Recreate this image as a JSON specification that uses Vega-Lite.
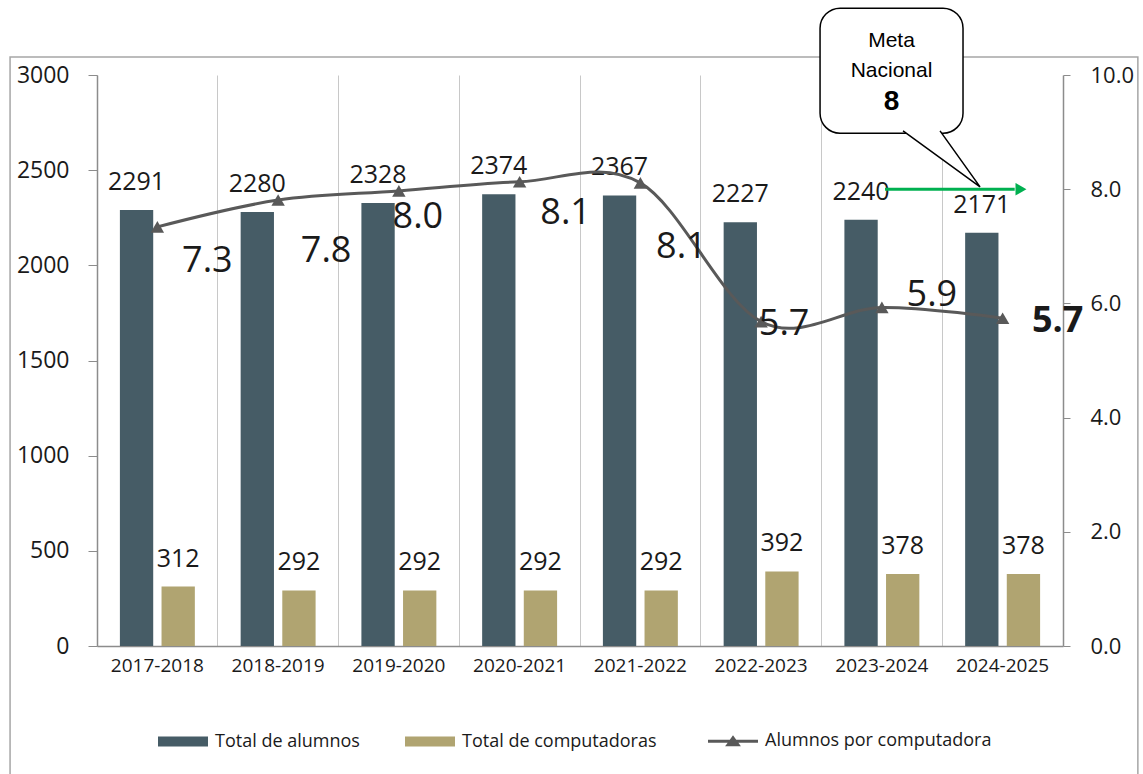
{
  "$schema": "https://vega.github.io/schema/vega-lite/v6.json",
  "width": 966,
  "height": 571,
  "autosize": {"type": "none"},
  "padding": {"left": 97, "top": 75, "right": 80, "bottom": 128},
  "background": "#ffffff",
  "config": {"view": {"stroke": null}, "font": "Open Sans", "text": {"font": "Open Sans"}},
  "datasets": {
    "barras": [
      {"periodo": "2017-2018", "serie": "Total de alumnos", "valor": 2291},
      {"periodo": "2017-2018", "serie": "Total de computadoras", "valor": 312},
      {"periodo": "2018-2019", "serie": "Total de alumnos", "valor": 2280},
      {"periodo": "2018-2019", "serie": "Total de computadoras", "valor": 292},
      {"periodo": "2019-2020", "serie": "Total de alumnos", "valor": 2328},
      {"periodo": "2019-2020", "serie": "Total de computadoras", "valor": 292},
      {"periodo": "2020-2021", "serie": "Total de alumnos", "valor": 2374},
      {"periodo": "2020-2021", "serie": "Total de computadoras", "valor": 292},
      {"periodo": "2021-2022", "serie": "Total de alumnos", "valor": 2367},
      {"periodo": "2021-2022", "serie": "Total de computadoras", "valor": 292},
      {"periodo": "2022-2023", "serie": "Total de alumnos", "valor": 2227},
      {"periodo": "2022-2023", "serie": "Total de computadoras", "valor": 392},
      {"periodo": "2023-2024", "serie": "Total de alumnos", "valor": 2240},
      {"periodo": "2023-2024", "serie": "Total de computadoras", "valor": 378},
      {"periodo": "2024-2025", "serie": "Total de alumnos", "valor": 2171},
      {"periodo": "2024-2025", "serie": "Total de computadoras", "valor": 378}
    ],
    "razon": [
      {"periodo": "2017-2018", "razon": 7.34},
      {"periodo": "2018-2019", "razon": 7.81},
      {"periodo": "2019-2020", "razon": 7.97},
      {"periodo": "2020-2021", "razon": 8.13},
      {"periodo": "2021-2022", "razon": 8.11},
      {"periodo": "2022-2023", "razon": 5.68},
      {"periodo": "2023-2024", "razon": 5.93},
      {"periodo": "2024-2025", "razon": 5.74}
    ]
  },
  "resolve": {"scale": {"x": "independent", "y": "independent"}},
  "layer": [
    {
      "data": {"name": "barras"},
      "encoding": {
        "x": {
          "field": "periodo", "type": "nominal", "sort": null,
          "scale": {"type": "band", "paddingInner": 0, "paddingOuter": 0},
          "axis": {"title": null, "orient": "bottom", "labelAngle": 0, "labelFont": "Open Sans", "labelFontSize": 19, "labelColor": "#1a1a1a", "ticks": false, "labelPadding": 10, "domainColor": "#8c8c8c", "domainWidth": 1.5, "grid": false, "bandPosition": 0.5}
        },
        "xOffset": {
          "field": "serie", "type": "nominal", "sort": ["Total de alumnos", "Total de computadoras"],
          "scale": {"paddingInner": 0.2, "paddingOuter": 0.55}
        },
        "y": {
          "field": "valor", "type": "quantitative",
          "scale": {"domain": [0, 3000], "nice": false},
          "axis": {"title": null, "orient": "left", "values": [0, 500, 1000, 1500, 2000, 2500, 3000], "format": "d", "grid": false, "labelFont": "Open Sans", "labelFontSize": 23, "labelColor": "#1a1a1a", "tickSize": 9, "tickColor": "#8c8c8c", "domainColor": "#8c8c8c", "domainWidth": 1.5, "labelPadding": 19}
        }
      },
      "layer": [
        {
          "mark": {"type": "bar"},
          "encoding": {
            "color": {
              "field": "serie", "type": "nominal",
              "scale": {"domain": ["Total de alumnos", "Total de computadoras", "Alumnos por computadora"], "range": ["#465c66", "#b0a471", "#595959"]},
              "legend": {
                "title": null, "orient": "none", "legendX": 77, "legendY": 657, "direction": "horizontal",
                "padding": 0, "symbolSize": 2500, "labelFont": "Open Sans", "labelFontSize": 18, "labelColor": "#1a1a1a",
                "labelOffset": 23, "columnPadding": 45, "labelLimit": 400,
                "encode": {
                  "symbols": {
                    "update": {
                      "shape": {"signal": "datum.value === 'Alumnos por computadora' ? 'M-1,0H1M-0.2,0.14L0,-0.14L0.2,0.14Z' : 'M-1,-0.2H1V0.2H-1Z'"},
                      "strokeWidth": {"signal": "datum.value === 'Alumnos por computadora' ? 3 : 0"},
                      "stroke": {"scale": "color", "field": "value"},
                      "fill": {"scale": "color", "field": "value"},
                      "opacity": {"value": 1},
                      "fillOpacity": {"value": 1}
                    }
                  }
                }
              }
            }
          }
        },
        {
          "mark": {"type": "text", "baseline": "alphabetic", "align": "center", "dy": -20, "fontSize": 25, "color": "#1a1a1a", "font": "Open Sans"},
          "encoding": {"text": {"field": "valor", "type": "quantitative"}}
        }
      ]
    },
    {
      "data": {"name": "razon"},
      "encoding": {
        "x": {
          "field": "periodo", "type": "nominal", "sort": null,
          "scale": {"type": "band", "paddingInner": 0, "paddingOuter": 0},
          "axis": {"orient": "top", "title": null, "labels": false, "ticks": false, "domain": false, "grid": true, "gridColor": "#c8c8c8", "gridWidth": 1, "bandPosition": 0}
        },
        "y": {
          "field": "razon", "type": "quantitative",
          "scale": {"domain": [0, 10], "nice": false},
          "axis": {"title": null, "orient": "right", "values": [0, 2, 4, 6, 8, 10], "format": ".1f", "grid": false, "labelFont": "Open Sans", "labelFontSize": 22, "labelColor": "#1a1a1a", "tickSize": 7, "tickColor": "#8c8c8c", "domainColor": "#8c8c8c", "domainWidth": 1.5, "labelPadding": 20}
        }
      },
      "layer": [
        {
          "mark": {"type": "line", "interpolate": "cardinal", "strokeWidth": 3},
          "encoding": {"color": {"datum": "Alumnos por computadora", "type": "nominal"}}
        },
        {
          "mark": {"type": "point", "shape": "triangle-up", "filled": true, "size": 180, "opacity": 1},
          "encoding": {"color": {"datum": "Alumnos por computadora", "type": "nominal"}}
        },
        {
          "mark": {
            "type": "text", "baseline": "alphabetic", "align": "center", "fontSize": 36, "color": "#1a1a1a", "font": "Open Sans",
            "dx": {"expr": "[50,48,19,46,41,23,50,55][indexof(['2017-2018','2018-2019','2019-2020','2020-2021','2021-2022','2022-2023','2023-2024','2024-2025'], datum.periodo)]"},
            "dy": {"expr": "[45,62,37,42,75,13,-1,14][indexof(['2017-2018','2018-2019','2019-2020','2020-2021','2021-2022','2022-2023','2023-2024','2024-2025'], datum.periodo)]"},
            "fontWeight": {"expr": "datum.periodo === '2024-2025' ? 'bold' : 'normal'"}
          },
          "encoding": {"text": {"field": "razon", "type": "quantitative", "format": ".1f"}}
        }
      ]
    },
    {
      "data": {"values": [{}]},
      "layer": [
        {
          "mark": {"type": "rect", "fill": "transparent", "stroke": "#a6a6a6", "strokeWidth": 1.5},
          "encoding": {
            "x": {"datum": -0.72, "type": "quantitative", "scale": {"domain": [0, 8], "nice": false, "zero": false}, "axis": null},
            "x2": {"datum": 8.62},
            "y": {"datum": 10.315, "type": "quantitative", "scale": {"domain": [0, 10], "nice": false, "zero": false}, "axis": null},
            "y2": {"datum": -2.5}
          }
        },
        {
          "mark": {"type": "rect", "fill": "#ffffff", "stroke": "#000000", "strokeWidth": 1.5, "cornerRadius": 20},
          "encoding": {
            "x": {"datum": 5.988, "type": "quantitative", "scale": {"domain": [0, 8], "nice": false, "zero": false}, "axis": null},
            "x2": {"datum": 7.172},
            "y": {"datum": 11.17, "type": "quantitative", "scale": {"domain": [0, 10], "nice": false, "zero": false}, "axis": null},
            "y2": {"datum": 8.98}
          }
        },
        {
          "mark": {"type": "point", "shape": "M-77,-56L0,0L-40,-56", "size": 4, "filled": true, "fill": "#ffffff", "stroke": "#000000", "strokeWidth": 1.5, "opacity": 1},
          "encoding": {
            "x": {"datum": 7.313, "type": "quantitative", "scale": {"domain": [0, 8], "nice": false, "zero": false}, "axis": null},
            "y": {"datum": 8.04, "type": "quantitative", "scale": {"domain": [0, 10], "nice": false, "zero": false}, "axis": null}
          }
        },
        {
          "mark": {"type": "text", "text": "Meta", "font": "Liberation Sans", "fontSize": 21, "color": "#000000", "baseline": "alphabetic", "align": "center"},
          "encoding": {
            "x": {"datum": 6.58, "type": "quantitative", "scale": {"domain": [0, 8], "nice": false, "zero": false}, "axis": null},
            "y": {"datum": 10.49, "type": "quantitative", "scale": {"domain": [0, 10], "nice": false, "zero": false}, "axis": null}
          }
        },
        {
          "mark": {"type": "text", "text": "Nacional", "font": "Liberation Sans", "fontSize": 21, "color": "#000000", "baseline": "alphabetic", "align": "center"},
          "encoding": {
            "x": {"datum": 6.58, "type": "quantitative", "scale": {"domain": [0, 8], "nice": false, "zero": false}, "axis": null},
            "y": {"datum": 9.965, "type": "quantitative", "scale": {"domain": [0, 10], "nice": false, "zero": false}, "axis": null}
          }
        },
        {
          "mark": {"type": "text", "text": "8", "font": "Liberation Sans", "fontSize": 28, "fontWeight": "bold", "color": "#000000", "baseline": "alphabetic", "align": "center"},
          "encoding": {
            "x": {"datum": 6.58, "type": "quantitative", "scale": {"domain": [0, 8], "nice": false, "zero": false}, "axis": null},
            "y": {"datum": 9.387, "type": "quantitative", "scale": {"domain": [0, 10], "nice": false, "zero": false}, "axis": null}
          }
        },
        {
          "mark": {"type": "rule", "color": "#00b050", "strokeWidth": 3},
          "encoding": {
            "x": {"datum": 6.526, "type": "quantitative", "scale": {"domain": [0, 8], "nice": false, "zero": false}, "axis": null},
            "x2": {"datum": 7.6},
            "y": {"datum": 8.0, "type": "quantitative", "scale": {"domain": [0, 10], "nice": false, "zero": false}, "axis": null}
          }
        },
        {
          "mark": {"type": "point", "shape": "triangle-right", "size": 160, "filled": true, "color": "#00b050", "opacity": 1},
          "encoding": {
            "x": {"datum": 7.652, "type": "quantitative", "scale": {"domain": [0, 8], "nice": false, "zero": false}, "axis": null},
            "y": {"datum": 8.0, "type": "quantitative", "scale": {"domain": [0, 10], "nice": false, "zero": false}, "axis": null}
          }
        }
      ]
    }
  ]
}
